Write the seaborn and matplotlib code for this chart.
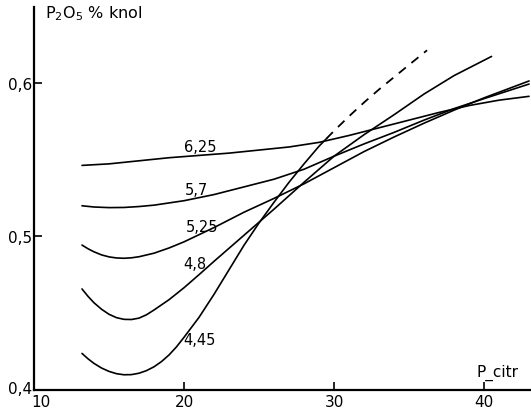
import matplotlib
matplotlib.use("Agg")
import matplotlib.pyplot as plt
import matplotlib.transforms as mtransforms
import numpy as np
import pandas as pd
import seaborn as sns

# ---- data ----
x_625 = [13.2, 15, 17, 19, 21, 23, 25, 27, 29, 31, 33, 35, 37, 39, 41, 43.0]
y_625 = [0.546, 0.547, 0.549, 0.551, 0.5525, 0.554, 0.556, 0.558, 0.561, 0.5655,
         0.5705, 0.5755, 0.5805, 0.585, 0.5885, 0.591]

x_57 = [13.2, 14, 15, 16, 17, 18, 20, 22, 24, 26, 28, 30, 32, 34, 36, 38, 40, 43.0]
y_57 = [0.5197, 0.5189, 0.5185, 0.5186, 0.5192, 0.5201, 0.523, 0.527, 0.532, 0.537,
        0.5435, 0.552, 0.560, 0.5675, 0.5755, 0.583, 0.5895, 0.599]

x_525 = [13.2, 13.6, 14, 14.5, 15, 15.5, 16, 16.5, 17, 18, 19, 20, 22, 24, 26, 28, 30,
         32, 34, 36, 38, 40, 43.0]
y_525 = [0.4941, 0.4917, 0.4897, 0.4877, 0.4864, 0.4857, 0.4855, 0.4858, 0.4865,
         0.4888, 0.4922, 0.4962, 0.5055, 0.5155, 0.5245, 0.534, 0.5445, 0.555, 0.5645,
         0.5735, 0.582, 0.590, 0.601]

x_48 = [13.2, 13.6, 14, 14.5, 15, 15.5, 16, 16.5, 17, 17.5, 18, 19, 20, 21, 22, 24, 26,
        28, 30, 32, 34, 36, 38, 40.5]
y_48 = [0.4655, 0.4607, 0.4565, 0.4523, 0.449, 0.4468, 0.4457, 0.4456, 0.4465, 0.4487,
        0.4518, 0.4585, 0.4663, 0.4748, 0.4835, 0.5005, 0.5175, 0.535, 0.552, 0.566,
        0.579, 0.5925, 0.6045, 0.617]

x_445 = [13.2, 13.6, 14, 14.5, 15, 15.5, 16, 16.5, 17, 17.5, 18, 18.5, 19, 19.5, 20,
         21, 22, 23, 24, 25, 26, 27, 28, 29, 29.5]
y_445 = [0.4235, 0.4200, 0.417, 0.4140, 0.4118, 0.4103, 0.4096, 0.4097, 0.4106, 0.4123,
         0.4148, 0.4182, 0.4225, 0.4278, 0.434, 0.447, 0.462, 0.478, 0.494, 0.5085,
         0.522, 0.535, 0.547, 0.5585, 0.5635]
# dashed (extrapolated) continuation of the 4.45 curve
x_445d = [29.5, 30, 31, 32, 33, 34, 35, 36.2]
y_445d = [0.5635, 0.5685, 0.578, 0.587, 0.5955, 0.6035, 0.6115, 0.621]

curve_names = ["6,25", "5,7", "5,25", "4,8", "4,45"]
label_x = [21.1, 20.8, 21.2, 20.7, 21.0]
label_y = [0.558, 0.5306, 0.5065, 0.4824, 0.4329]

x_ticks = [10, 20, 30, 40]
y_ticks = [0.4, 0.5, 0.6]
y_ticklabels = ["0,4", "0,5", "0,6"]

# ---- build long table ----
frames = []
for name, xs, ys in zip(curve_names,
                        [x_625, x_57, x_525, x_48, x_445],
                        [y_625, y_57, y_525, y_48, y_445]):
    frames.append(pd.DataFrame({"x": xs, "y": ys, "curve": name, "part": "solid"}))
frames.append(pd.DataFrame({"x": x_445d, "y": y_445d, "curve": "4,45d", "part": "dashed"}))
df = pd.concat(frames, ignore_index=True)

sns.set_style("ticks")
plt.rcParams["font.family"] = ["DejaVu Sans"]
plt.rcParams["text.color"] = "black"
plt.rcParams["mathtext.fontset"] = "dejavusans"

W, H = 531, 410
fig = plt.figure(figsize=(W / 100, H / 100), dpi=100)
ax = fig.add_axes([34 / W, 19.5 / H, (W - 34) / W, 382.5 / H])

solid = df[df["part"] == "solid"]
sns.lineplot(data=solid, x="x", y="y", units="curve", estimator=None, sort=False,
             color="black", lw=1.2, ax=ax)
dashed = df[df["part"] == "dashed"]
sns.lineplot(data=dashed, x="x", y="y", estimator=None, sort=False,
             color="black", lw=1.3, linestyle=(0, (5, 4)), ax=ax)

for name, lx, ly in zip(curve_names, label_x, label_y):
    ax.text(lx, ly, name, ha="center", va="center", fontsize=10.5, color="black")

ax.set_xlim(10, 43.13)
ax.set_ylim(0.4, 0.6492)
ax.set_xticks(x_ticks)
ax.set_xticklabels([str(t) for t in x_ticks])
ax.set_yticks(y_ticks)
ax.set_yticklabels(y_ticklabels)
ax.set_xlabel("")
ax.set_ylabel("")
ax.tick_params(axis="both", direction="in", length=6, width=1.2, labelsize=11,
               colors="black")
ax.tick_params(axis="x", pad=3)
ax.tick_params(axis="y", pad=1.5)
sns.despine(ax=ax)
for s in ["left", "bottom"]:
    ax.spines[s].set_linewidth(1.6)
    ax.spines[s].set_color("black")

# shift the "10" label right and the "0,4" label up to avoid overlap (as in reference)
fig.canvas.draw()
xl0 = ax.get_xticklabels()[0]
xl0.set_transform(xl0.get_transform() + mtransforms.ScaledTranslation(7 / 100, 0, fig.dpi_scale_trans))
yl0 = ax.get_yticklabels()[0]
yl0.set_transform(yl0.get_transform() + mtransforms.ScaledTranslation(0, 3 / 100, fig.dpi_scale_trans))

fig.text(45 / W, 1 - 14 / H, r"P$_2$O$_5$ % knol", ha="left", va="center",
         fontsize=11.5, color="black")
fig.text(476 / W, 1 - 373 / H, "P_citr", ha="left", va="center", fontsize=11,
         color="black")

fig.savefig("out.png", dpi=100)
